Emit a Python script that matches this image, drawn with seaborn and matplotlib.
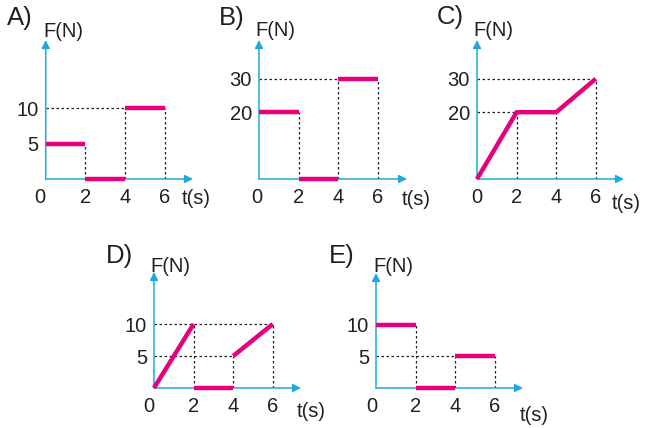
import matplotlib
matplotlib.use("Agg")
import matplotlib.pyplot as plt
import matplotlib.transforms as mtransforms
import pandas as pd
import seaborn as sns

# ---------------- data ----------------
panels = ["A", "B", "C", "D", "E"]
x_ticks = [0, 2, 4, 6]

A_t = [0, 2, 2, 4, 4, 6]
A_F = [5, 5, 0, 0, 10, 10]
A_seg = [0, 0, 1, 1, 2, 2]
A_yticks = [5, 10]
A_vlines = [(2, 5), (4, 10), (6, 10)]     # (t, up to F)
A_hlines = [(10, 4)]                       # (F, from 0 to t)

B_t = [0, 2, 2, 4, 4, 6]
B_F = [20, 20, 0, 0, 30, 30]
B_seg = [0, 0, 1, 1, 2, 2]
B_yticks = [20, 30]
B_vlines = [(2, 20), (4, 30), (6, 30)]
B_hlines = [(30, 4)]

C_t = [0, 2, 4, 6]
C_F = [0, 20, 20, 30]
C_seg = [0, 0, 0, 0]
C_yticks = [20, 30]
C_vlines = [(2, 20), (4, 20), (6, 30)]
C_hlines = [(20, 2), (30, 6)]

D_t = [0, 2, 2, 4, 4, 6]
D_F = [0, 10, 0, 0, 5, 10]
D_seg = [0, 0, 1, 1, 2, 2]
D_yticks = [5, 10]
D_vlines = [(2, 10), (4, 5), (6, 10)]
D_hlines = [(10, 6), (5, 4)]

E_t = [0, 2, 2, 4, 4, 6]
E_F = [10, 10, 0, 0, 5, 5]
E_seg = [0, 0, 1, 1, 2, 2]
E_yticks = [5, 10]
E_vlines = [(2, 10), (4, 5), (6, 5)]
E_hlines = [(5, 4)]

# ---------------- layout (pixels) ----------------
W, H = 652, 428
box = {  # left, right(arrow end), bottom(axis), top(arrow tip)
    "A": (45.7, 193, 179, 40),
    "B": (259, 407, 179, 40),
    "C": (477, 624, 179, 40),
    "D": (154, 301, 388, 272),
    "E": (376, 523, 388, 273),
}
x_px = 19.8
y_px = {"A": 7.07, "B": 3.34, "C": 3.34, "D": 6.4, "E": 6.35}
zero_shift = {"A": -6, "B": -2, "C": 0, "D": -5, "E": -4}
letter_pos = {"A": (7, 25), "B": (219, 25), "C": (437, 24), "D": (106, 263), "E": (329, 263)}
fn_pos = {"A": (43, 37), "B": (255, 36), "C": (473, 36), "D": (150, 272), "E": (373, 272)}
ts_pos = {"A": (182, 204), "B": (402, 205), "C": (612, 209), "D": (297, 417), "E": (520, 421)}

PINK = "#e6007e"
BLUE = "#1fa9e1"
TXT = "#231f20"

sns.set_theme(style="white")
plt.rcParams["font.family"] = ["Liberation Sans", "DejaVu Sans"]

fig = plt.figure(figsize=(W / 100, H / 100), dpi=100)

data = {
    "A": (A_t, A_F, A_seg, A_yticks, A_vlines, A_hlines),
    "B": (B_t, B_F, B_seg, B_yticks, B_vlines, B_hlines),
    "C": (C_t, C_F, C_seg, C_yticks, C_vlines, C_hlines),
    "D": (D_t, D_F, D_seg, D_yticks, D_vlines, D_hlines),
    "E": (E_t, E_F, E_seg, E_yticks, E_vlines, E_hlines),
}

for p in panels:
    t, F, seg, yt, vl, hl = data[p]
    l, r, b, tp = box[p]
    ax = fig.add_axes([l / W, 1 - b / H, (r - l) / W, (b - tp) / H])
    ax.set_xlim(0, (r - l) / x_px)
    ax.set_ylim(0, (b - tp) / y_px[p])
    for s in ax.spines.values():
        s.set_visible(False)
    ax.patch.set_alpha(0)

    # guide lines
    for tv, fv in vl:
        ax.plot([tv, tv], [0, fv], color=TXT, lw=0.9, ls=(0, (2, 2)), zorder=1)
    for fv, tv in hl:
        ax.plot([0, tv], [fv, fv], color=TXT, lw=0.9, ls=(0, (2, 2)), zorder=1)

    # axes arrows
    for end in [(1, 0), (0, 1)]:
        ax.annotate("", xy=end, xytext=(0, 0), xycoords="axes fraction",
                    arrowprops=dict(arrowstyle="-|>", color=BLUE, lw=1.1,
                                    mutation_scale=12, shrinkA=0, shrinkB=0), zorder=2)

    df = pd.DataFrame({"t": t, "F": F, "seg": seg})
    sns.lineplot(data=df, x="t", y="F", units="seg", estimator=None, sort=False,
                 color=PINK, lw=3.2, ax=ax, legend=False, clip_on=False,
                 solid_capstyle="butt", zorder=5)

    ax.set_xticks(x_ticks)
    ax.set_xticklabels([str(v) for v in x_ticks])
    ax.set_yticks(yt)
    ax.set_yticklabels([str(v) for v in yt])
    ax.tick_params(axis="x", length=0, pad=6.5, labelsize=14.5, labelcolor=TXT)
    ax.tick_params(axis="y", length=0, pad=5, labelsize=14.5, labelcolor=TXT)
    ax.set_xlabel("")
    ax.set_ylabel("")
    zero = ax.get_xticklabels()[0]
    zero.set_transform(zero.get_transform() +
                       mtransforms.ScaledTranslation(zero_shift[p] / 100, 0, fig.dpi_scale_trans))

    lx, ly = letter_pos[p]
    fig.text(lx / W, 1 - ly / H, p + ")", ha="left", va="baseline", fontsize=18.5, color=TXT)
    fx, fy = fn_pos[p]
    fig.text(fx / W, 1 - fy / H, "F(N)", ha="left", va="baseline", fontsize=14.5, color=TXT)
    tx, ty = ts_pos[p]
    fig.text(tx / W, 1 - ty / H, "t(s)", ha="left", va="baseline", fontsize=14.5, color=TXT)

fig.savefig("out.png", dpi=100, facecolor="white")
